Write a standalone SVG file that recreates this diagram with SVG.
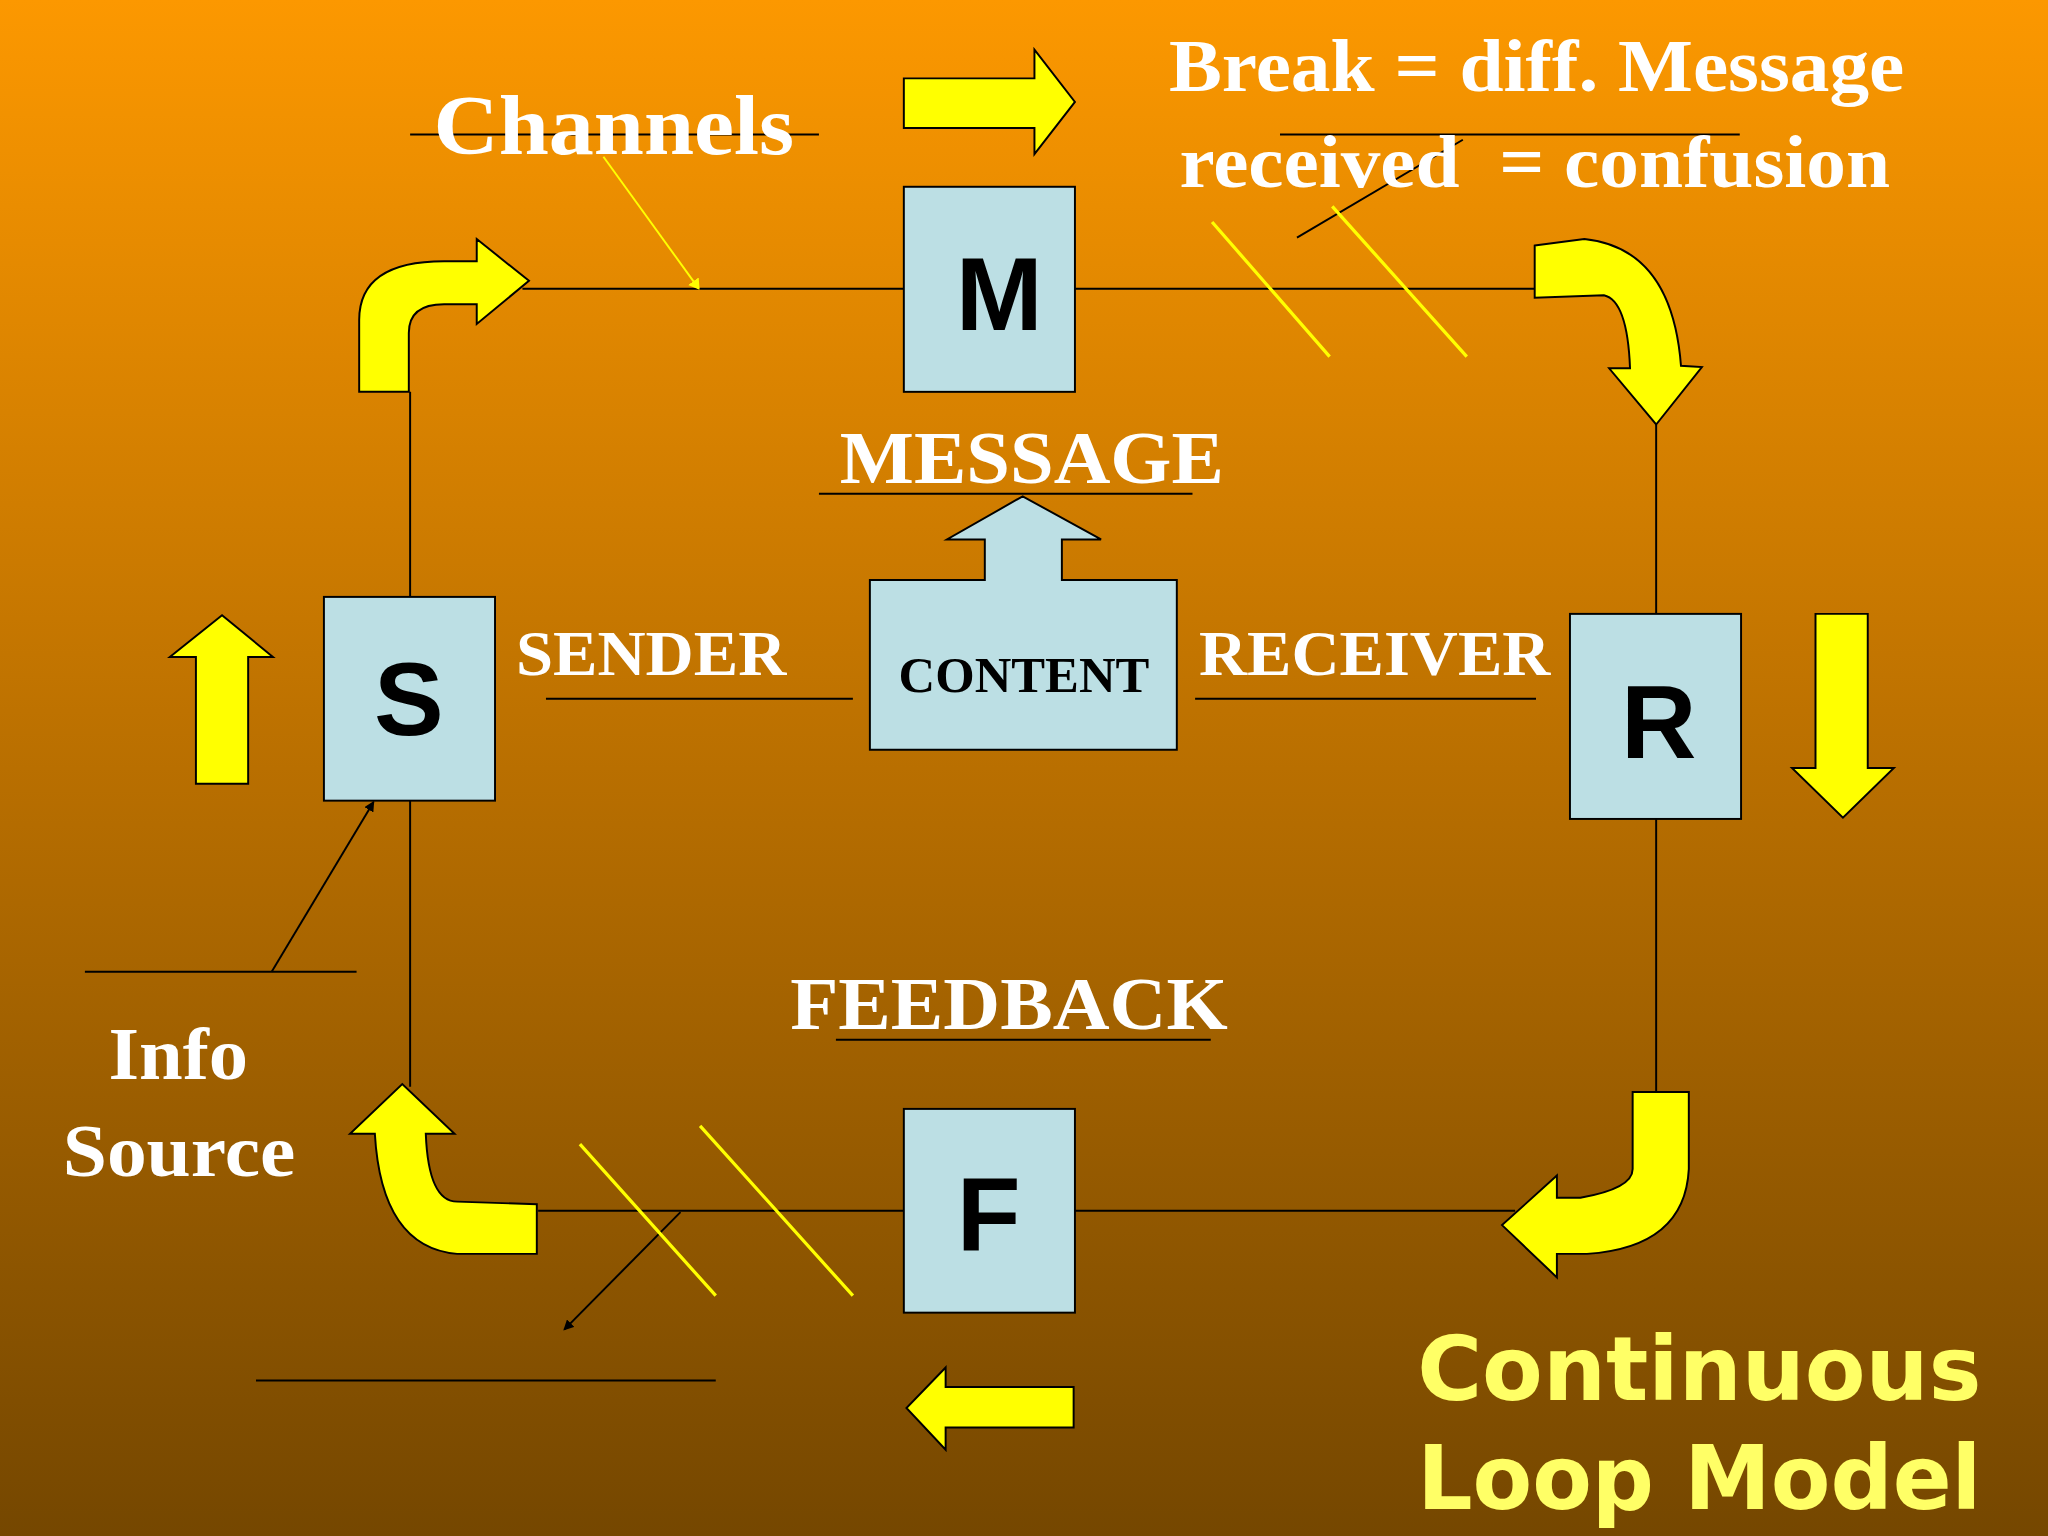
<svg xmlns="http://www.w3.org/2000/svg" width="2048" height="1536" viewBox="0 0 2048 1536">
<defs>
<linearGradient id="bg" x1="0" y1="0" x2="0" y2="1"><stop offset="0" stop-color="#FC9800"/><stop offset="0.5" stop-color="#B96F00"/><stop offset="1" stop-color="#754700"/></linearGradient>
<marker id="ab" markerWidth="8" markerHeight="8" refX="7" refY="4" orient="auto" markerUnits="userSpaceOnUse"><path d="M0,0 L8,4 L0,8 Z" fill="#000"/></marker>
<marker id="ay" markerWidth="8" markerHeight="10" refX="7" refY="5" orient="auto" markerUnits="userSpaceOnUse"><path d="M0,0 L8,5 L0,10 Z" fill="#FF0"/></marker>
<style>
.box{fill:#BCDFE4;stroke:#000;stroke-width:1.5}
.ya{fill:#FF0;stroke:#000;stroke-width:1.5}
.ln{stroke:#000;stroke-width:1.5;fill:none}
.yl{stroke:#FF0;stroke-width:2.5}
.w{font-family:"Liberation Serif",serif;font-weight:bold;fill:#fff}
.big{font-family:"Liberation Sans",sans-serif;font-weight:bold;fill:#000;font-size:80px;text-anchor:middle}
.ty{font-family:"DejaVu Sans",sans-serif;font-weight:bold;fill:#FFFF66;font-size:68px}
</style>
</defs>
<rect width="2048" height="1536" fill="url(#bg)"/>
<g transform="scale(1.30612)">
<g id="connectors">
<path class="ln" d="M400,221 H692 M823,221 H1175 M314,300 V457 M314,613 V832 M1268,325 V470 M1268,627 V836 M412,927 H692 M823,927 H1160"/>
<path class="ln" d="M314,103 H627 M980,103 H1332 M627,378 H913 M418,535 H653 M915,535 H1176 M640,796 H927 M65,744 H273 M196,1057 H548"/>
<path class="ln" d="M993,182 L1120,107"/>
<path class="ln" d="M208,744 L286,614" marker-end="url(#ab)"/>
<path class="ln" d="M521,928 L432,1018" marker-end="url(#ab)"/>
<line class="yl" x1="462" y1="120" x2="535" y2="221" marker-end="url(#ay)" style="stroke-width:1.5"/>
<path class="yl" d="M928,170 L1018,273 M1020,158 L1123,273 M444,876 L548,992 M536,862 L653,992"/>
</g>
<g id="arrows">
<path class="ya" d="M275,300 L275,245 Q275,200 340,200 L365,200 L365,183 L405,215 L365,248 L365,233 L340,233 Q313,233 313,255 L313,300 Z"/>
<path class="ya" d="M1175,188 L1213,183 Q1280,190 1287,280 L1303,281 L1268,325 L1232,282 L1248,282 Q1246,230 1228,226 L1175,228 Z"/>
<path class="ya" d="M1250,836 L1293,836 L1293,895 Q1290,955 1215,960 L1192,960 L1192,978 L1150,938 L1192,900 L1192,917 L1210,917 Q1250,910 1250,895 Z"/>
<path class="ya" d="M411,922 L411,960 L350,960 Q292,955 287,868 L268,868 L308,830 L348,868 L326,868 Q328,920 350,920 Z"/>
<path class="ya" d="M692,60 H792 V38 L823,78 L792,118 V98 H692 Z"/>
<path class="ya" d="M150,600 V503 H130 L170,471 L209,503 H190 V600 Z"/>
<path class="ya" d="M1390,470 H1430 V588 H1450 L1411,626 L1372,588 H1390 Z"/>
<path class="ya" d="M822,1062 H724 V1047 L694,1078 L724,1110 V1093 H822 Z"/>
</g>
<g id="M"><rect class="box" x="692" y="143" width="131" height="157"/><text class="big" x="765" y="253">M</text></g>
<g id="S"><rect class="box" x="248" y="457" width="131" height="156"/><text class="big" x="313" y="563">S</text></g>
<g id="R"><rect class="box" x="1202" y="470" width="131" height="157"/><text class="big" x="1270" y="580">R</text></g>
<g id="F"><rect class="box" x="692" y="849" width="131" height="156"/><text class="big" x="757" y="957">F</text></g>
<g id="CONTENT"><path class="box" d="M666,444 H754 V413 H725 L783,380 L843,413 H813 V444 H901 V574 H666 Z"/>
<text x="688" y="530" font-family="Liberation Serif,serif" font-weight="bold" font-size="38" textLength="192" lengthAdjust="spacingAndGlyphs">CONTENT</text></g>
<g id="labels">
<text class="w" x="332" y="118" font-size="64" textLength="276" lengthAdjust="spacingAndGlyphs">Channels</text>
<text class="w" x="895" y="70" font-size="56" textLength="563" lengthAdjust="spacingAndGlyphs">Break = diff. Message</text>
<text class="w" x="903" y="143" font-size="56" textLength="544" lengthAdjust="spacingAndGlyphs" xml:space="preserve">received  = confusion</text>
<text class="w" x="643" y="370" font-size="56" textLength="294" lengthAdjust="spacingAndGlyphs">MESSAGE</text>
<text class="w" x="395" y="517" font-size="48" textLength="207" lengthAdjust="spacingAndGlyphs">SENDER</text>
<text class="w" x="918" y="517" font-size="48" textLength="269" lengthAdjust="spacingAndGlyphs">RECEIVER</text>
<text class="w" x="605" y="788" font-size="56" textLength="335" lengthAdjust="spacingAndGlyphs">FEEDBACK</text>
<text class="w" x="83" y="826" font-size="56" textLength="107" lengthAdjust="spacingAndGlyphs">Info</text>
<text class="w" x="48" y="900" font-size="56" textLength="178" lengthAdjust="spacingAndGlyphs">Source</text>
<text class="ty" x="1085" y="1072" textLength="432" lengthAdjust="spacingAndGlyphs">Continuous</text>
<text class="ty" x="1085" y="1155" textLength="432" lengthAdjust="spacingAndGlyphs">Loop Model</text>
</g>
</g>
</svg>
